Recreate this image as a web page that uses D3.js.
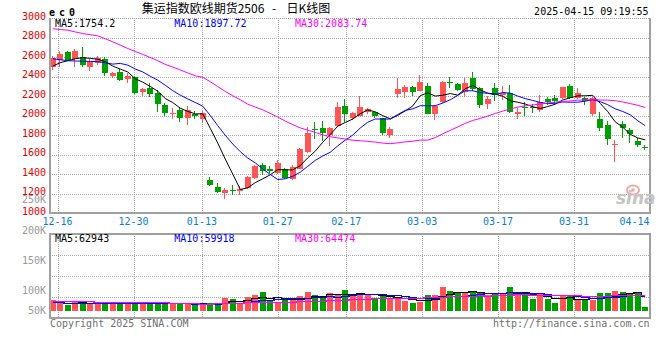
<!DOCTYPE html>
<html><head><meta charset="utf-8">
<script src="https://cdn.jsdelivr.net/npm/d3@7"></script>
<style>
body{margin:0;background:#fff;}
svg{display:block;}
text{font-family:"DejaVu Sans Mono",monospace;font-size:10px;}
</style></head><body>
<svg id="c" width="660" height="360"></svg>
<script>
// ---------- data ----------
const dates = ["12-13","12-16","12-17","12-18","12-19","12-20","12-23","12-24","12-25","12-26","12-27","12-30","12-31","01-02","01-03","01-06","01-07","01-08","01-09","01-10","01-13","01-14","01-15","01-16","01-17","01-20","01-21","01-22","01-23","01-24","01-27","02-05","02-06","02-07","02-10","02-11","02-12","02-13","02-14","02-17","02-18","02-19","02-20","02-21","02-24","02-25","02-26","02-27","02-28","03-03","03-04","03-05","03-06","03-07","03-10","03-11","03-12","03-13","03-14","03-17","03-18","03-19","03-20","03-21","03-24","03-25","03-26","03-27","03-28","03-31","04-01","04-02","04-03","04-07","04-08","04-09","04-10","04-11","04-14","04-15"];
const open = [2504,2572,2651,2580,2606,2505,2538,2583,2408,2452,2374,2401,2247,2282,2231,2111,2015,2059,1974,2018,1967,1345,1273,1205,1239,1232,1255,1362,1498,1458,1413,1458,1355,1458,1625,1866,1877,1805,1897,2105,1982,1999,2044,2037,1976,1805,2224,2248,2299,2258,2309,2016,2146,2350,2323,2241,2391,2282,2118,2289,2214,2231,2020,2095,2092,2061,2173,2187,2187,2309,2187,2187,2020,1969,1907,1696,1918,1856,1744,1683];
const high = [2610,2660,2660,2688,2709,2586,2613,2600,2452,2480,2436,2405,2282,2340,2265,2134,2077,2093,2104,2052,2052,1368,1314,1256,1290,1283,1378,1495,1515,1481,1550,1462,1492,1669,1884,1941,1948,1890,2139,2173,2044,2204,2078,2044,1982,1890,2391,2316,2309,2418,2333,2112,2360,2401,2333,2391,2452,2299,2205,2333,2306,2316,2078,2139,2118,2214,2197,2214,2299,2326,2289,2197,2196,2040,1950,1752,1946,1880,1770,1700];
const low = [2470,2500,2560,2504,2504,2463,2521,2408,2385,2357,2333,2224,2203,2190,2043,1998,1967,1940,1906,1967,1929,1275,1209,1147,1188,1188,1250,1355,1396,1413,1403,1355,1345,1455,1622,1764,1737,1693,1890,1941,1958,1993,2016,1982,1798,1771,2187,2180,2204,2255,2016,1958,2129,2290,2255,2197,2255,2084,2070,2154,2163,2032,1968,2000,2030,2038,2112,2119,2173,2173,2173,2108,2000,1846,1700,1530,1776,1720,1676,1645];
const close = [2590,2633,2572,2664,2521,2555,2590,2442,2442,2367,2408,2237,2272,2224,2121,2032,2032,1980,2059,1998,2032,1290,1222,1239,1225,1249,1372,1488,1437,1430,1515,1362,1478,1662,1826,1857,1822,1873,2091,2016,2033,2091,2071,1993,1819,1866,2275,2299,2248,2343,2016,2105,2343,2333,2265,2340,2275,2112,2170,2214,2231,2044,2037,2078,2075,2139,2146,2156,2296,2187,2235,2153,2180,1880,1764,1713,1880,1812,1696,1665];
const volume = [44000,35000,24000,35000,35000,34000,31000,31000,32000,31000,27000,35000,31000,32000,32000,32000,31000,27000,29000,24000,29000,31000,31000,52000,49000,31000,57000,64000,76000,40000,37000,48000,48000,61000,76000,64000,61000,71000,64000,84000,64000,71000,67000,51000,64000,53000,53000,40000,31000,37000,64000,64000,96000,80000,71000,71000,77000,77000,64000,71000,67000,96000,71000,67000,48000,71000,48000,31000,64000,61000,44000,44000,44000,71000,71000,80000,76000,72000,72000,16000];
// moving-average values at the start of the window (earlier data not shown)
const ma5Lead = [2510,2545,2565,2585];
const ma10Lead = [2585,2575,2565,2562,2560,2558,2555,2545,2530];
const ma30Lead = [2893,2885,2878,2860,2844,2832,2820,2790,2759,2725,2690,2660,2630,2598,2565,2527,2500,2470,2440,2410,2395,2350,2300,2250,2205,2165,2119,2090,2061];
const vma5Lead = [36000,35000,34000,34000];
const vma10Lead = [35000,35000,34000,34000,33000,33000,33000,33000,33000];
const vma30Lead = [40000,40000,40000,39000,39000,39000,38000,38000,37000,37000,37000,36000,36000,36000,35000,35000,34000,33000,32000,31000,30000,30000,31000,32000,33000,34000,35000,35000,36000];
const priceTicks = [1000,1200,1400,1600,1800,2000,2200,2400,2600,2800,3000];
const volTickValues = [250000,200000,150000,100000,50000];
const volTickLabels = ["250K","200K","150K","100K","50K"];
const dateLabels = ["12-16","12-30","01-13","01-27","02-17","03-03","03-17","03-31","04-14"];
const maNames = ["MA5","MA10","MA30"];
const maColors = ["#000000","#0000ff","#ff00ff"];
const priceLegend = ["1754.2","1897.72","2083.74"];
const volLegend = ["62943","59918","64474"];

// ---------- helpers ----------
function movingAvg(arr, n, lead){
  return arr.map((_, i) => i < n-1 ? lead[i] : d3.mean(arr.slice(i-n+1, i+1)));
}
const rows = dates.map((d,i)=>({d,i,o:open[i],h:high[i],l:low[i],c:close[i],v:volume[i],up:close[i]>=open[i]}));
const RED="#ff5555", GREEN="#009f00";

const svg = d3.select("#c");
const L=50, R=650, mainTop=18.3, mainBot=213.3, volTop=234.3, volBot=318, volBase=311;

const x = d3.scaleBand().domain(dates).range([49,649]);
const cx = d => x(d) + x.bandwidth()/2;
const gx = d3.scaleLinear().domain([0, dates.length-1]).range([L, R]);
const y = d3.scaleLinear().domain([1000,3000]).range([mainBot, mainTop]);
const yv = d3.scaleLinear().domain([0,100000]).range([volBase, volBase-25]);
const yvLabel = d3.scaleLinear().domain([100000,250000]).range([294,203.3]);
const volGrid = d3.scaleLinear().domain([0,4]).range([volTop, volBot]);

const defs = svg.append("defs");
defs.append("clipPath").attr("id","clipMain").append("rect").attr("x",L).attr("y",mainTop).attr("width",R-L).attr("height",mainBot-mainTop);
defs.append("clipPath").attr("id","clipVol").append("rect").attr("x",L).attr("y",volTop).attr("width",R-L).attr("height",volBot-volTop);

const grid = svg.append("g").attr("stroke","#a8a8a8").attr("stroke-dasharray","1,1").attr("shape-rendering","crispEdges");
// horizontal grid main
grid.selectAll(".hm").data(priceTicks.filter(v=>v>1000)).join("line")
  .attr("x1",L).attr("x2",R).attr("y1",d=>Math.round(y(d))+0.5).attr("y2",d=>Math.round(y(d))+0.5);
// horizontal grid volume
grid.selectAll(".hv").data([1,2,3]).join("line")
  .attr("x1",L).attr("x2",R).attr("y1",d=>Math.round(volGrid(d))+0.5).attr("y2",d=>Math.round(volGrid(d))+0.5);
// vertical grid
const gridDates = dateLabels.slice(0,-1);
grid.selectAll(".vg").data(gridDates).join("line")
  .attr("x1",d=>Math.round(gx(dates.indexOf(d)))+0.5).attr("x2",d=>Math.round(gx(dates.indexOf(d)))+0.5)
  .attr("y1",mainTop).attr("y2",mainBot);
grid.selectAll(".vg2").data(gridDates).join("line")
  .attr("x1",d=>Math.round(gx(dates.indexOf(d)))+0.5).attr("x2",d=>Math.round(gx(dates.indexOf(d)))+0.5)
  .attr("y1",volTop).attr("y2",volBot);

// ---------- candles ----------
const cg = svg.append("g").attr("clip-path","url(#clipMain)").attr("shape-rendering","crispEdges");
const cand = cg.selectAll("g").data(rows).join("g");
cand.append("rect")
  .attr("x",d=>Math.round(cx(d.d)-3)+2).attr("width",1)
  .attr("y",d=>Math.round(y(d.h))).attr("height",d=>Math.max(1,Math.round(y(d.l))-Math.round(y(d.h))))
  .attr("fill",d=>d.up?RED:GREEN);
cand.append("rect")
  .attr("x",d=>Math.round(cx(d.d)-3)).attr("width",6)
  .attr("y",d=>Math.round(y(Math.max(d.o,d.c))))
  .attr("height",d=>Math.max(1,Math.round(y(Math.min(d.o,d.c)))-Math.round(y(Math.max(d.o,d.c)))))
  .attr("fill",d=>d.up?RED:GREEN);

// MA lines main
const ma = [movingAvg(close,5,ma5Lead), movingAvg(close,10,ma10Lead), movingAvg(close,30,ma30Lead)];
const line = d3.line().x((v,i)=>cx(dates[i])).y(v=>y(v));
const mg = svg.append("g").attr("clip-path","url(#clipMain)");
mg.selectAll("path").data(ma).join("path")
  .attr("d",line).attr("fill","none").attr("stroke",(d,i)=>maColors[i]).attr("stroke-width",1);

// ---------- volume ----------
const vg = svg.append("g").attr("clip-path","url(#clipVol)").attr("shape-rendering","crispEdges");
vg.selectAll("rect").data(rows).join("rect")
  .attr("x",d=>Math.round(cx(d.d)-3)).attr("width",6)
  .attr("y",d=>Math.round(yv(d.v))).attr("height",d=>volBase-Math.round(yv(d.v)))
  .attr("fill",d=>d.up?RED:GREEN);
const vma = [movingAvg(volume,5,vma5Lead), movingAvg(volume,10,vma10Lead), movingAvg(volume,30,vma30Lead)];
const vline = d3.line().x((v,i)=>cx(dates[i])).y(v=>Math.round(yv(v))+0.5).curve(d3.curveStep);
svg.append("g").attr("clip-path","url(#clipVol)").selectAll("path").data(vma).join("path")
  .attr("d",vline).attr("fill","none").attr("stroke",(d,i)=>maColors[i]).attr("stroke-width",1.5)
  .attr("shape-rendering","crispEdges");

// ---------- borders ----------
const bd = svg.append("g").attr("stroke","#a0a0a0").attr("stroke-width",2).attr("fill","none").attr("shape-rendering","crispEdges");
bd.append("line").attr("x1",L).attr("x2",L).attr("y1",mainTop).attr("y2",mainBot+1);
bd.append("line").attr("x1",R).attr("x2",R).attr("y1",mainTop).attr("y2",mainBot+1);
bd.append("line").attr("x1",L).attr("x2",R+1).attr("y1",mainBot).attr("y2",mainBot);
svg.append("line").attr("x1",L).attr("x2",R).attr("y1",Math.round(mainTop)+0.5).attr("y2",Math.round(mainTop)+0.5)
  .attr("stroke","#a0a0a0").attr("stroke-dasharray","1,1").attr("shape-rendering","crispEdges");
bd.append("rect").attr("x",L).attr("y",volTop).attr("width",R-L).attr("height",volBot-volTop);

// ---------- texts ----------
svg.selectAll(".py").data(priceTicks).join("text")
  .attr("x",46).attr("y",d=>y(d)+1.5).attr("text-anchor","end").attr("fill","#e00000").text(d=>d);
svg.selectAll(".vy").data(volTickValues).join("text")
  .attr("x",46).attr("y",d=>Math.min(yvLabel(d),314.3)).attr("text-anchor","end").attr("fill","#999")
  .text((d,i)=>volTickLabels[i]);
svg.selectAll(".dx").data(dateLabels).join("text")
  .attr("x",d=>Math.min(gx(dates.indexOf(d)), 634.5)).attr("y",225).attr("text-anchor","middle")
  .attr("fill","#0a7ed6").text(d=>d);

const legX = [55,174.3,295];
svg.selectAll(".lg").data(maNames).join("text")
  .attr("x",(d,i)=>legX[i]).attr("y",27.3).attr("fill",(d,i)=>maColors[i]).text((d,i)=>d+":"+priceLegend[i]);
svg.selectAll(".lgv").data(maNames).join("text")
  .attr("x",(d,i)=>legX[i]).attr("y",241.7).attr("fill",(d,i)=>maColors[i]).text((d,i)=>d+":"+volLegend[i]);

svg.append("text").attr("x",49).attr("y",16).attr("font-size","13px").attr("font-weight","bold")
  .attr("letter-spacing","4px").attr("fill","#000").text("ec0");
const t = svg.append("text").attr("y",13).style("font-family","'Noto Sans CJK SC','Noto Sans',sans-serif").style("font-size","12px").attr("fill","#000");
t.append("tspan").attr("x",141.7).text("集运指数欧线期货2506");
t.append("tspan").attr("x",272).text("-");
t.append("tspan").attr("x",286.5).text("日K线图");
svg.append("text").attr("x",648.5).attr("y",15).attr("text-anchor","end").attr("fill","#000").text("2025-04-15 09:19:55");

svg.append("text").attr("x",50).attr("y",327).attr("fill","#707070").text("Copyright 2025 SINA.COM");
svg.append("text").attr("x",649.5).attr("y",327).attr("text-anchor","end").attr("fill","#707070").text("http://finance.sina.com.cn");

// sina watermark
const wm = svg.append("g");
wm.append("ellipse").attr("cx",633).attr("cy",190).attr("rx",6).attr("ry",4.5).attr("fill","none").attr("stroke","#f2a8a8").attr("stroke-width",2);
wm.append("circle").attr("cx",633).attr("cy",190).attr("r",1.8).attr("fill","#f2a8a8");
wm.append("text").attr("x",616).attr("y",204).style("font-family","'DejaVu Sans',sans-serif").style("font-size","17px")
  .style("font-style","italic").style("font-weight","bold").attr("fill","#c4c4c4").text("sina");
</script>
</body></html>
